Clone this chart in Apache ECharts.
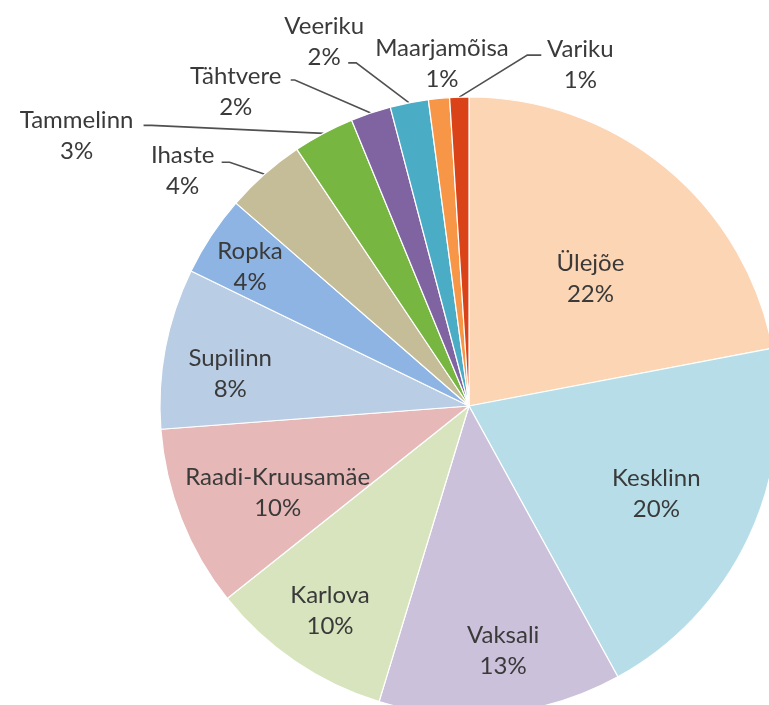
<!DOCTYPE html>
<html lang="et">
<head>
    <meta charset="UTF-8">
    <script src="https://cdn.jsdelivr.net/npm/echarts@6/dist/echarts.min.js"></script>
    <style>
        html, body {
            margin: 0;
            padding: 0;
            background: #ffffff;
        }

        #district_chart {
            width: 769px;
            height: 705px;
        }
    </style>
</head>
<body>
<div id="district_chart"></div>
<script type="text/javascript">
    const districts = ['Ülejõe', 'Kesklinn', 'Vaksali', 'Karlova', 'Raadi-Kruusamäe', 'Supilinn', 'Ropka',
        'Ihaste', 'Tammelinn', 'Tähtvere', 'Veeriku', 'Maarjamõisa', 'Variku'];
    const shares = [22.0, 20.0, 12.7, 9.6, 9.5, 8.4, 4.2, 4.2, 3.2, 2.1, 2.0, 1.1, 1.0];
    const colors = ['#FCD5B5', '#B7DEE8', '#CCC1DA', '#D7E4BD', '#E6B9B8', '#B9CDE5', '#8EB4E3',
        '#C4BD97', '#77B640', '#8064A2', '#4BACC6', '#F79646', '#DA4218'];

    const cx = 469, cy = 406, r = 309;
    // labels inside the slice: [fraction of radius, angle shift in degrees]
    const inner_pos = {
        0: [0.57, 4], 1: [0.67, 0], 2: [0.80, -2], 3: [0.80, 0],
        4: [0.68, -3], 5: [0.78, -3], 6: [0.84, -1]
    };
    // labels outside: [label dx, label dy] from slice edge, then line end from label centre + elbow length
    const outer_pos = {
        7: [-82, -3, 39, -9, 8],
        8: [-247, 2, 67, -10, 8],
        9: [-135, -21, 55, -12, 4],
        10: [-85, -61, 24, 21, 8],
        11: [3, -35],
        12: [121, -32, -39, -10, -14]
    };

    const total = shares.reduce(function (a, b) { return a + b }, 0);

    function midAngle(i) {
        let before = 0;
        for (let k = 0; k < i; k++) before += shares[k];
        return (before + shares[i] / 2) / total * 2 * Math.PI;
    }

    function polar(a, rad) {
        return [cx + rad * Math.sin(a), cy - rad * Math.cos(a)];
    }

    const pie_data = districts.map(function (name, i) {
        const item = {name: name, value: shares[i], itemStyle: {color: colors[i]}};
        if (inner_pos[i]) {
            item.label = {position: 'inside'};
            item.labelLine = {show: false};
        } else {
            item.label = {position: 'outside'};
            item.labelLine = {show: outer_pos[i].length > 2};
        }
        return item;
    });

    const chart = echarts.init(document.getElementById('district_chart'));
    chart.setOption({
        animation: false,
        series: [
            {
                type: 'pie',
                center: [cx, cy],
                radius: r,
                startAngle: 90,
                clockwise: true,
                avoidLabelOverlap: false,
                itemStyle: {
                    borderColor: '#ffffff',
                    borderWidth: 1.2
                },
                label: {
                    color: '#3a3a3a',
                    textBorderWidth: 0,
                    formatter: function (p) {
                        return '{n|' + p.name + '}\n{n|' + Math.round(p.percent) + '%}';
                    },
                    rich: {
                        n: {
                            fontFamily: 'Lato',
                            fontSize: 24,
                            lineHeight: 31,
                            color: '#3a3a3a',
                            align: 'center',
                            textBorderWidth: 0
                        }
                    }
                },
                labelLine: {
                    lineStyle: {
                        color: '#505050',
                        width: 1.6
                    }
                },
                labelLayout: function (params) {
                    const i = params.dataIndex;
                    const a = midAngle(i);
                    if (inner_pos[i]) {
                        const p = polar(a + inner_pos[i][1] * Math.PI / 180, r * inner_pos[i][0]);
                        return {x: p[0], y: p[1], align: 'center', verticalAlign: 'middle'};
                    }
                    const o = outer_pos[i];
                    const edge = polar(a, r);
                    const lx = edge[0] + o[0], ly = edge[1] + o[1];
                    const res = {x: lx, y: ly, align: 'center', verticalAlign: 'middle'};
                    if (o.length > 2) {
                        const end = [lx + o[2], ly + o[3]];
                        res.labelLinePoints = [edge, [end[0] + o[4], end[1]], end];
                    }
                    return res;
                },
                data: pie_data
            }
        ]
    });
</script>
</body>
</html>
